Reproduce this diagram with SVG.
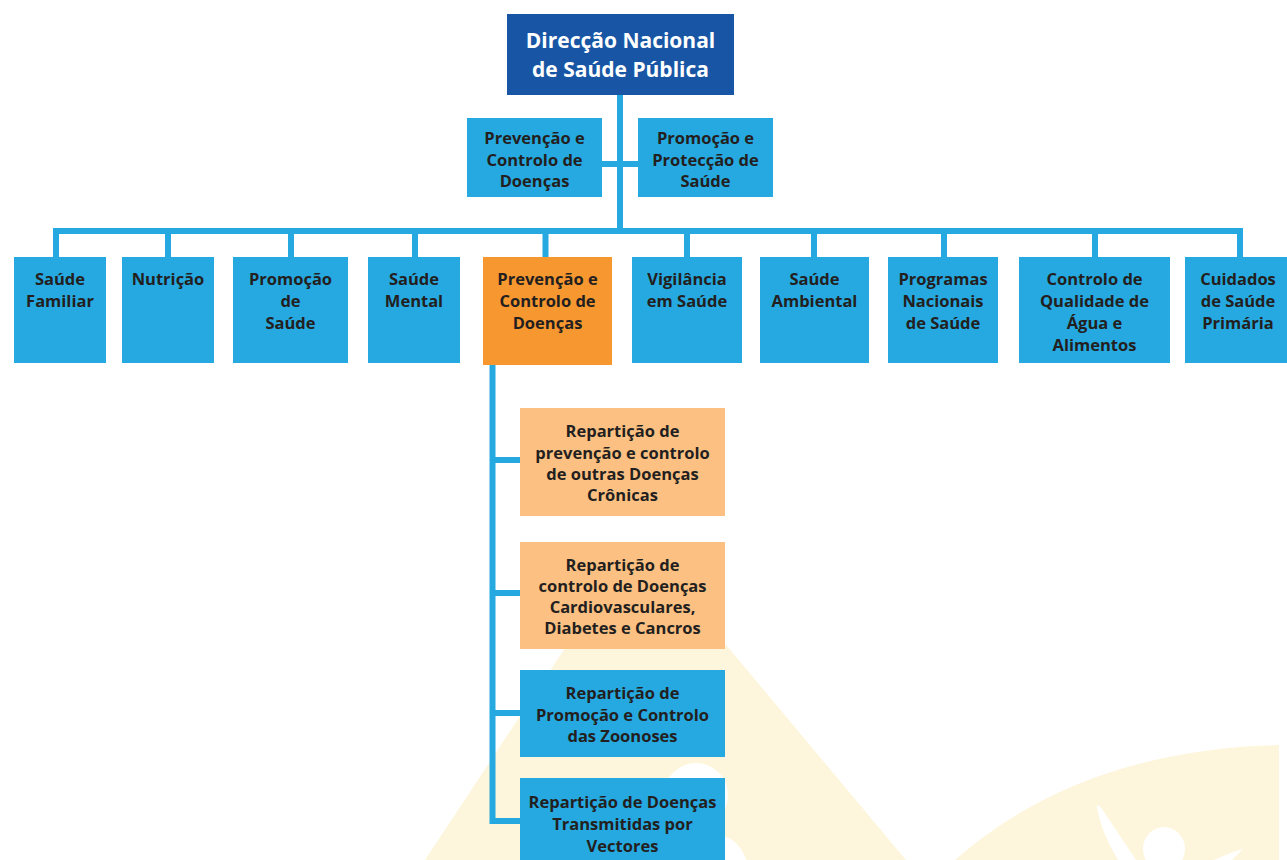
<svg xmlns="http://www.w3.org/2000/svg" width="1287" height="860" viewBox="0 0 1287 860">
<style>
.bg{fill:#ffffff}
.wm{fill:#fdf6dc}
.wh{fill:#ffffff}
.dark{fill:#1856a5}
.blue{fill:#25a9e0}
.orange{fill:#f7972f}
.lorange{fill:#fcc182}
.conn{fill:none;stroke:#25a9e0;stroke-width:6;stroke-linejoin:miter}
text{font-family:"Open Sans","Liberation Sans",sans-serif;font-weight:700;font-size:16.5px;fill:#231f20;text-anchor:middle}
.title{fill:#ffffff;font-size:21px}
</style>
<rect class="bg" x="0" y="0" width="1287" height="860"/>
<g id="watermark">
<path class="wm" d="M425,860 L600,595 Q638,540 676,585 L906,860 Z"/>
<circle class="wh" cx="696" cy="795" r="32"/>
<ellipse class="wh" cx="720" cy="882" rx="30" ry="46"/>
<path class="wm" d="M955,860 Q1080,750 1279,745 L1279,860 Z"/>
<ellipse class="wh" cx="1164" cy="849" rx="21" ry="22"/>
<path class="wh" d="M1097,808 Q1096,802 1102,809 L1136,860 L1118,860 Q1101,832 1097,808 Z"/>
<path class="wh" d="M1243,849 Q1232,852 1214,860 L1232,860 Z"/>
</g>
<g id="connectors">
<path class="conn" d="M620,95 V231"/>
<path class="conn" d="M602,164 H638"/>
<path class="conn" d="M53,231 H1243"/>
<path class="conn" d="M56,231 V257 M168,231 V257 M291,231 V257 M415,231 V257 M545.5,231 V257 M687,231 V257 M814,231 V257 M944,231 V257 M1095,231 V257 M1240,231 V257"/>
<path class="conn" d="M492.5,365 V821 H520"/>
<path class="conn" d="M492.5,460 H520 M492.5,593 H520 M492.5,713 H520"/>
</g>
<g id="n-dnsp">
<rect class="dark" x="507" y="14" width="227" height="81"/>
<text class="title" x="620.5" y="48">Direcção Nacional</text>
<text class="title" x="620.5" y="77">de Saúde Pública</text>
</g>
<g id="n-pcd-top">
<rect class="blue" x="467" y="118" width="135" height="79"/>
<text x="534.5" y="144">Prevenção e</text>
<text x="534.5" y="165.5">Controlo de</text>
<text x="534.5" y="187">Doenças</text>
</g>
<g id="n-pps-top">
<rect class="blue" x="638" y="118" width="135" height="79"/>
<text x="705.5" y="144">Promoção e</text>
<text x="705.5" y="165.5">Protecção de</text>
<text x="705.5" y="187">Saúde</text>
</g>
<g id="n-familiar">
<rect class="blue" x="14" y="257" width="92" height="106"/>
<text x="60" y="285">Saúde</text>
<text x="60" y="307">Familiar</text>
</g>
<g id="n-nutricao">
<rect class="blue" x="122" y="257" width="92" height="106"/>
<text x="168" y="285">Nutrição</text>
</g>
<g id="n-promocao">
<rect class="blue" x="233" y="257" width="115" height="106"/>
<text x="290.5" y="285">Promoção</text>
<text x="290.5" y="307">de</text>
<text x="290.5" y="329">Saúde</text>
</g>
<g id="n-mental">
<rect class="blue" x="368" y="257" width="92" height="106"/>
<text x="414" y="285">Saúde</text>
<text x="414" y="307">Mental</text>
</g>
<g id="n-prevencao">
<rect class="orange" x="483" y="257" width="129" height="108"/>
<text x="547.5" y="285">Prevenção e</text>
<text x="547.5" y="307">Controlo de</text>
<text x="547.5" y="329">Doenças</text>
</g>
<g id="n-vigilancia">
<rect class="blue" x="632" y="257" width="110" height="106"/>
<text x="687" y="285">Vigilância</text>
<text x="687" y="307">em Saúde</text>
</g>
<g id="n-ambiental">
<rect class="blue" x="760" y="257" width="109" height="106"/>
<text x="814.5" y="285">Saúde</text>
<text x="814.5" y="307">Ambiental</text>
</g>
<g id="n-programas">
<rect class="blue" x="888" y="257" width="110" height="106"/>
<text x="943" y="285">Programas</text>
<text x="943" y="307">Nacionais</text>
<text x="943" y="329">de Saúde</text>
</g>
<g id="n-qualidade">
<rect class="blue" x="1019" y="257" width="151" height="106"/>
<text x="1094.5" y="285">Controlo de</text>
<text x="1094.5" y="307">Qualidade de</text>
<text x="1094.5" y="329">Água e</text>
<text x="1094.5" y="351">Alimentos</text>
</g>
<g id="n-cuidados">
<rect class="blue" x="1185" y="257" width="102" height="106"/>
<text x="1238" y="285">Cuidados</text>
<text x="1238" y="307">de Saúde</text>
<text x="1238" y="329">Primária</text>
</g>
<g id="n-cronicas">
<rect class="lorange" x="520" y="408" width="205" height="108"/>
<text x="622.5" y="437">Repartição de</text>
<text x="622.5" y="458.5">prevenção e controlo</text>
<text x="622.5" y="480">de outras Doenças</text>
<text x="622.5" y="501">Crônicas</text>
</g>
<g id="n-cardio">
<rect class="lorange" x="520" y="542" width="205" height="107"/>
<text x="622.5" y="571">Repartição de</text>
<text x="622.5" y="592">controlo de Doenças</text>
<text x="622.5" y="613">Cardiovasculares,</text>
<text x="622.5" y="634">Diabetes e Cancros</text>
</g>
<g id="n-zoonoses">
<rect class="blue" x="520" y="670" width="205" height="87"/>
<text x="622.5" y="699">Repartição de</text>
<text x="622.5" y="720.5">Promoção e Controlo</text>
<text x="622.5" y="742">das Zoonoses</text>
</g>
<g id="n-vectores">
<rect class="blue" x="520" y="778" width="205" height="82"/>
<text x="622.5" y="808">Repartição de Doenças</text>
<text x="622.5" y="830">Transmitidas por</text>
<text x="622.5" y="852">Vectores</text>
</g>
</svg>
